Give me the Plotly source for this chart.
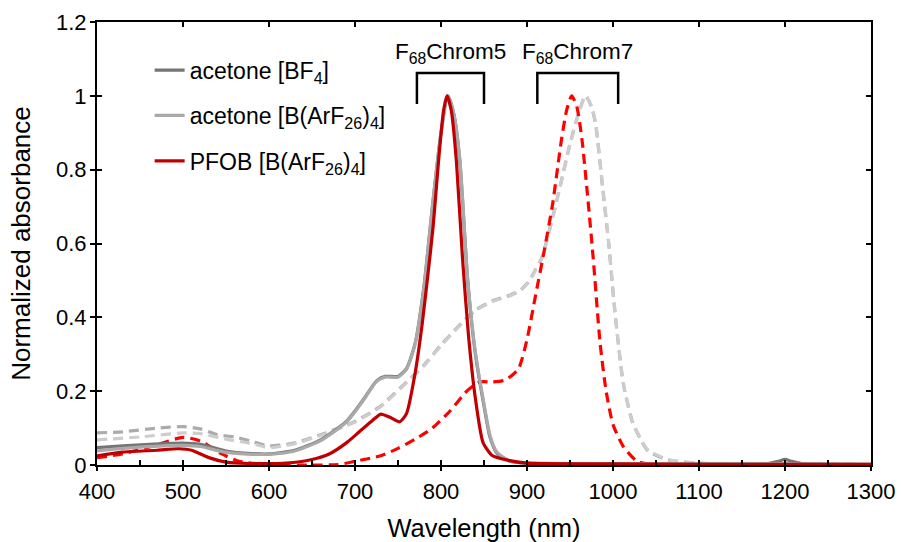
import plotly.graph_objects as go

# ---------------- data ----------------
# F68Chrom5 (solid lines)
c5_bf4_x = [400, 430, 460, 500, 520, 550, 580, 600, 630, 660, 690, 710, 725, 735, 750, 760, 770, 780, 790, 800, 808, 815, 822, 831, 840, 850, 857, 865, 880, 900, 1000, 1100, 1180, 1192, 1200, 1208, 1220, 1300]
c5_bf4_y = [0.047, 0.052, 0.056, 0.059, 0.056, 0.038, 0.031, 0.030, 0.040, 0.068, 0.118, 0.178, 0.228, 0.240, 0.240, 0.262, 0.330, 0.480, 0.700, 0.900, 1.000, 0.950, 0.820, 0.500, 0.300, 0.160, 0.075, 0.032, 0.010, 0.005, 0.004, 0.004, 0.004, 0.010, 0.015, 0.010, 0.004, 0.002]

c5_arf_x = [400, 430, 460, 500, 520, 550, 580, 600, 630, 660, 690, 710, 725, 735, 750, 760, 770, 780, 790, 800, 808, 815, 822, 831, 840, 850, 857, 865, 880, 900, 1000, 1100, 1200, 1300]
c5_arf_y = [0.038, 0.045, 0.050, 0.053, 0.050, 0.034, 0.029, 0.029, 0.038, 0.066, 0.116, 0.176, 0.226, 0.238, 0.238, 0.260, 0.328, 0.478, 0.700, 0.900, 1.000, 0.950, 0.825, 0.505, 0.305, 0.165, 0.080, 0.035, 0.011, 0.005, 0.004, 0.003, 0.003, 0.002]

c5_pfob_x = [400, 430, 470, 495, 510, 530, 550, 580, 620, 650, 670, 690, 705, 720, 730, 740, 752, 760, 770, 778, 785, 791, 797, 803, 807, 812, 818, 825, 832, 840, 849, 860, 880, 900, 1000, 1100, 1200, 1300]
c5_pfob_y = [0.025, 0.035, 0.040, 0.044, 0.040, 0.020, 0.008, 0.004, 0.005, 0.015, 0.030, 0.060, 0.090, 0.120, 0.138, 0.130, 0.117, 0.140, 0.250, 0.380, 0.520, 0.650, 0.820, 0.960, 1.000, 0.960, 0.820, 0.560, 0.350, 0.180, 0.060, 0.025, 0.012, 0.005, 0.003, 0.002, 0.002, 0.002]

# F68Chrom7 (dashed lines)
c7_bf4_x = [400, 430, 470, 500, 520, 540, 560, 580, 600, 630, 660, 700, 730, 760, 780, 800, 820, 840, 860, 880, 893, 903, 910, 917, 927, 938, 950, 960, 968, 975, 980, 988, 995, 1002, 1012, 1023, 1032, 1040, 1063, 1100, 1150, 1200, 1300]
c7_bf4_y = [0.087, 0.090, 0.100, 0.104, 0.098, 0.082, 0.076, 0.064, 0.052, 0.060, 0.082, 0.118, 0.160, 0.225, 0.270, 0.325, 0.375, 0.420, 0.445, 0.460, 0.475, 0.500, 0.530, 0.560, 0.645, 0.750, 0.870, 0.953, 1.000, 0.970, 0.920, 0.750, 0.600, 0.420, 0.220, 0.113, 0.070, 0.040, 0.014, 0.005, 0.003, 0.003, 0.001]

c7_arf_x = [400, 450, 500, 520, 550, 580, 600, 630, 660, 700, 730, 760, 780, 800, 820, 840, 860, 880, 893, 903, 910, 917, 927, 938, 950, 960, 968, 975, 980, 988, 995, 1002, 1012, 1023, 1032, 1040, 1063, 1100, 1150, 1200, 1300]
c7_arf_y = [0.068, 0.076, 0.087, 0.085, 0.070, 0.058, 0.047, 0.058, 0.080, 0.116, 0.158, 0.223, 0.268, 0.323, 0.373, 0.418, 0.443, 0.458, 0.473, 0.498, 0.528, 0.558, 0.643, 0.748, 0.868, 0.951, 1.000, 0.972, 0.922, 0.752, 0.602, 0.422, 0.222, 0.115, 0.072, 0.042, 0.015, 0.005, 0.003, 0.003, 0.001]

c7_pfob_x = [400, 430, 470, 500, 520, 545, 565, 600, 650, 680, 700, 730, 750, 770, 790, 810, 830, 845, 860, 875, 890, 900, 910, 920, 930, 940, 946, 952, 958, 964, 970, 977, 985, 992, 1000, 1012, 1028, 1045, 1100, 1200, 1300]
c7_pfob_y = [0.020, 0.030, 0.055, 0.075, 0.065, 0.030, 0.010, 0.001, 0.000, 0.001, 0.010, 0.025, 0.045, 0.070, 0.100, 0.145, 0.200, 0.225, 0.225, 0.230, 0.260, 0.340, 0.460, 0.580, 0.710, 0.880, 0.960, 1.000, 0.970, 0.880, 0.740, 0.560, 0.330, 0.200, 0.110, 0.050, 0.010, 0.002, 0.000, 0.000, 0.000]

legend_names = ["acetone [BF<sub>4</sub>]",
                "acetone [B(ArF<sub>26</sub>)<sub>4</sub>]",
                "PFOB [B(ArF<sub>26</sub>)<sub>4</sub>]"]

bracket_labels = ["F<sub>68</sub>Chrom5", "F<sub>68</sub>Chrom7"]
bracket_spans = [(772, 850), (912, 1006)]
bracket_top = 1.062
bracket_foot = 0.978
label_y = 1.072

x_ticks = list(range(400, 1301, 100))

# ---------------- figure ----------------
FONT = "Arial, Liberation Sans, sans-serif"
fig = go.Figure()

def add(x, y, color, dash, name, show, group):
    fig.add_trace(go.Scatter(
        x=x, y=y, mode="lines", name=name, showlegend=show, legendgroup=group,
        line=dict(color=color, width=3.2, dash=dash, shape="spline", smoothing=0.6),
        hoverinfo="skip"))

# Chrom7 dashed first (drawn beneath)
add(c7_bf4_x, c7_bf4_y, "#ABABAB", "10px,6px", legend_names[0], False, "g1")
add(c7_arf_x, c7_arf_y, "#CDCDCD", "10px,6px", legend_names[1], False, "g2")
add(c7_pfob_x, c7_pfob_y, "#FF0000", "10px,6px", legend_names[2], False, "g3")
# Chrom5 solid
add(c5_bf4_x, c5_bf4_y, "#757575", "solid", legend_names[0], True, "g1")
add(c5_arf_x, c5_arf_y, "#A9A9A9", "solid", legend_names[1], True, "g2")
add(c5_pfob_x, c5_pfob_y, "#C00000", "solid", legend_names[2], True, "g3")

# brackets + labels
for (x0, x1), lab in zip(bracket_spans, bracket_labels):
    fig.add_shape(type="path", xref="x", yref="y",
                  path=f"M {x0},{bracket_foot} L {x0},{bracket_top} L {x1},{bracket_top} L {x1},{bracket_foot}",
                  line=dict(color="black", width=2.5))
    fig.add_annotation(x=(x0 + x1) / 2, y=label_y, xref="x", yref="y", text=lab,
                       showarrow=False, yanchor="bottom", xanchor="center",
                       font=dict(family=FONT, size=22.5, color="black"))

axis_common = dict(showgrid=False, zeroline=False, automargin=False)

fig.update_layout(
    width=901, height=542,
    margin=dict(l=97, r=30, t=22, b=77),
    paper_bgcolor="white", plot_bgcolor="white",
    font=dict(family=FONT, size=22, color="black"),
    showlegend=True,
    legend=dict(x=0.068, y=0.94, xanchor="left", yanchor="top",
                bgcolor="rgba(0,0,0,0)", tracegroupgap=12.5,
                font=dict(family=FONT, size=23, color="black"),
                itemwidth=30),
    xaxis=dict(range=[400, 1300], tickvals=x_ticks, ticks="inside", ticklen=5, tickwidth=2,
               tickcolor="black", showline=True, linecolor="black", linewidth=2,
               mirror="ticks", title=dict(text="Wavelength (nm)", standoff=16,
                                          font=dict(family=FONT, size=25.5)),
               ticklabelstandoff=6, tickfont=dict(size=22), **axis_common),
    yaxis=dict(range=[0, 1.2], dtick=0.2, ticks="inside", ticklen=5, tickwidth=2,
               tickcolor="black", showline=True, linecolor="black", linewidth=2,
               mirror="ticks", title=dict(text="Normalized absorbance", standoff=18,
                                          font=dict(family=FONT, size=26)),
               ticklabelstandoff=4, tickfont=dict(size=22), **axis_common),
    xaxis2=dict(range=[400, 1300], overlaying="x", anchor="y", side="bottom",
                tickvals=x_ticks, ticks="outside", ticklen=5, tickwidth=2, tickcolor="black",
                showticklabels=False, showline=False,
                minor=dict(ticks="inside", ticklen=5, tickwidth=1.5, tickcolor="black",
                           tickvals=list(range(450, 1300, 100))),
                **axis_common),
    yaxis2=dict(range=[0, 1.2], overlaying="y", anchor="x", side="left",
                dtick=0.2, ticks="outside", ticklen=6, tickwidth=2, tickcolor="black",
                showticklabels=False, showline=False, **axis_common),
)

# invisible helper trace so the overlay axes are realised
fig.add_trace(go.Scatter(x=[None], y=[None], xaxis="x2", yaxis="y2",
                         showlegend=False, hoverinfo="skip"))

fig.write_html("out.html")
